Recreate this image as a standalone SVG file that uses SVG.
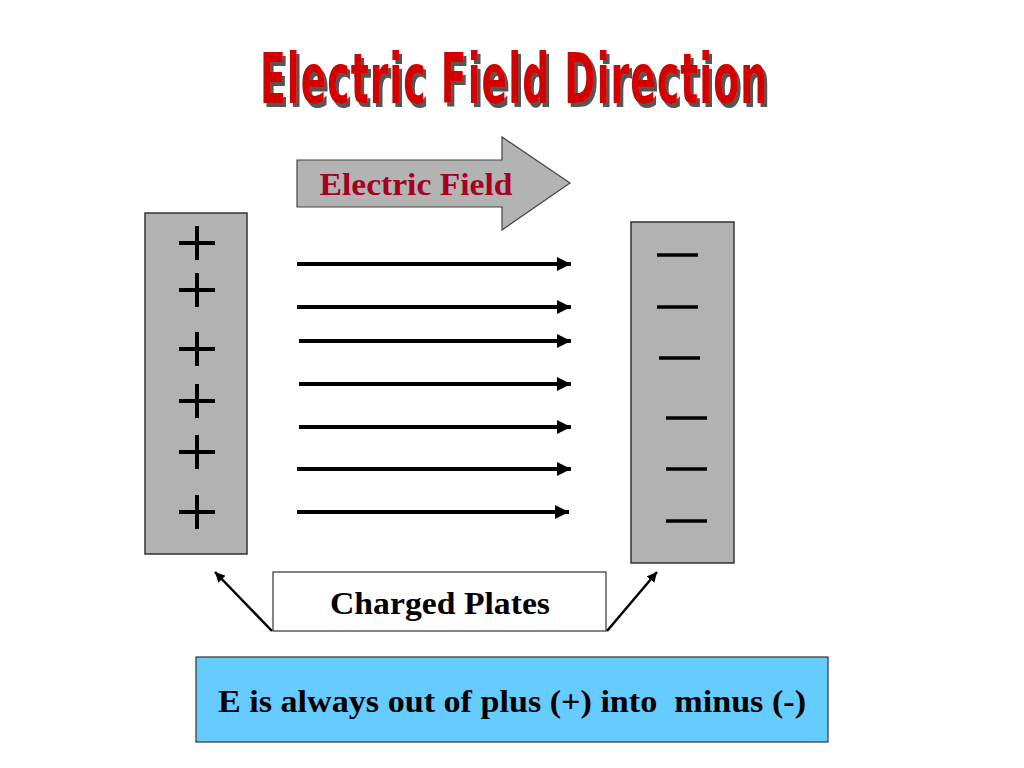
<svg xmlns="http://www.w3.org/2000/svg" width="1024" height="768" viewBox="0 0 1024 768">
<style>
.plate{fill:#B2B2B2;stroke:#333;stroke-width:1.5}
.sign{stroke:#000;stroke-width:4;fill:none}
.field{stroke:#000;stroke-width:4;fill:none}
.ptr{stroke:#000;stroke-width:2.5;fill:none}
.lbl{font-family:"Liberation Serif","Times New Roman",serif;font-weight:bold;text-anchor:middle;white-space:pre}
.title{font-family:"Liberation Sans Narrow","DejaVu Sans Condensed","Liberation Sans",sans-serif;font-weight:bold;font-size:42px;letter-spacing:1px}
</style>
<defs>
<marker id="ah" viewBox="0 0 10 10" refX="10" refY="5" markerWidth="3.5" markerHeight="3.5" orient="auto" markerUnits="strokeWidth">
<path d="M0,0 L10,5 L0,10 z" fill="#000"/>
</marker>
<marker id="ah2" viewBox="0 0 10 10" refX="10" refY="5" markerWidth="4" markerHeight="4" orient="auto" markerUnits="strokeWidth">
<path d="M0,0 L10,5 L0,10 z" fill="#000"/>
</marker>
<filter id="shadow" x="-10%" y="-30%" width="130%" height="170%">
<feOffset in="SourceAlpha" dx="3" dy="4" result="o"/>
<feFlood flood-color="#555"/>
<feComposite in2="o" operator="in" result="s"/>
<feMerge><feMergeNode in="s"/><feMergeNode in="SourceGraphic"/></feMerge>
</filter>
</defs>
<rect width="1024" height="768" fill="#fff"/>
<g id="title" filter="url(#shadow)">
<text class="title" transform="translate(514,103) scale(1,1.64)" x="0" y="0" fill="#D40000" text-anchor="middle">Electric Field Direction</text>
</g>
<g id="field-arrow">
<path d="M297,160 L502,160 L502,137 L570,183 L502,230 L502,207 L297,207 Z" fill="#B3B3B3" stroke="#444" stroke-width="1.2"/>
<text class="lbl" x="416" y="195" font-size="31" fill="#A50021" textLength="193" lengthAdjust="spacingAndGlyphs">Electric Field</text>
</g>
<g id="positive-plate">
<rect class="plate" x="145" y="213" width="102" height="341"/>
<g class="sign">
<path d="M179,243 h36 M197,226 v34"/>
<path d="M179,290 h36 M197,273 v34"/>
<path d="M179,349 h36 M197,332 v34"/>
<path d="M179,401 h36 M197,384 v34"/>
<path d="M179,452 h36 M197,435 v34"/>
<path d="M179,512 h36 M197,495 v34"/>
</g>
</g>
<g id="negative-plate">
<rect class="plate" x="631" y="222" width="103" height="341"/>
<g class="sign" style="stroke-width:3.5">
<path d="M657,255 h41"/>
<path d="M657,307 h41"/>
<path d="M659,358 h41"/>
<path d="M666,418 h41"/>
<path d="M666,469 h41"/>
<path d="M666,521 h41"/>
</g>
</g>
<g id="charged-plates">
<rect x="273" y="572" width="333" height="59" fill="#fff" stroke="#333" stroke-width="1.2"/>
<text class="lbl" x="440" y="614" font-size="31" fill="#000" textLength="220" lengthAdjust="spacingAndGlyphs">Charged Plates</text>
</g>
<g id="summary">
<rect x="196" y="657" width="632" height="85" fill="#66CCFF" stroke="#333" stroke-width="1.2"/>
<text class="lbl" x="512" y="712" font-size="31" fill="#000" textLength="588" lengthAdjust="spacingAndGlyphs" xml:space="preserve">E is always out of plus (+) into  minus (-)</text>
</g>
<g id="connectors">
<g class="field" marker-end="url(#ah)">
<line x1="297" y1="264" x2="571" y2="264"/>
<line x1="297" y1="307" x2="571" y2="307"/>
<line x1="299" y1="341" x2="571" y2="341"/>
<line x1="299" y1="384" x2="571" y2="384"/>
<line x1="299" y1="427" x2="571" y2="427"/>
<line x1="297" y1="469" x2="571" y2="469"/>
<line x1="297" y1="512" x2="569" y2="512"/>
</g>
<g class="ptr" marker-end="url(#ah2)">
<line x1="272" y1="631" x2="215" y2="572"/>
<line x1="607" y1="631" x2="657" y2="572"/>
</g>
</g>
</svg>
